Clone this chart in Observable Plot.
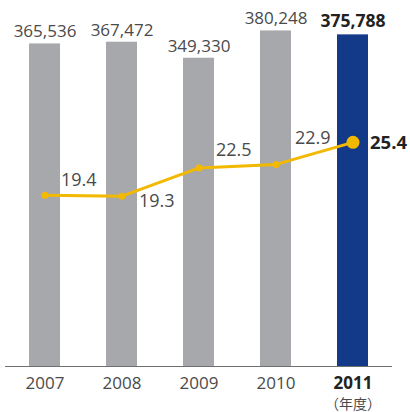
<!DOCTYPE html>
<html>
<head>
<meta charset="utf-8">
<script src="https://cdn.jsdelivr.net/npm/d3@7"></script>
<script src="https://cdn.jsdelivr.net/npm/@observablehq/plot@0.6"></script>
<style>
  html, body { margin: 0; padding: 0; background: #fff; }
  #chart svg { display: block; }
</style>
</head>
<body>
<div id="chart"></div>
<script>
// ---- data ----
const years = ["2007", "2008", "2009", "2010", "2011"];
const sales = [365536, 367472, 349330, 380248, 375788];
const ratio = [19.4, 19.3, 22.5, 22.9, 25.4];
const unitLabel = "（年度）";
const highlightYear = "2011";

// ---- styling / layout (kept apart from the data) ----
const gray = "#a7a8ac";
const navy = "#123a88";
const gold = "#f2b900";
const textColor = "#4a4a4a";
const strongText = "#222";
const ratioToBarUnits = 10000; // line drawn against the same vertical axis
const ratioLabelOffsets = [[16, -15], [17, 5], [17, -18], [19, -26], [17, 1]];
const font = "'Open Sans', sans-serif";

const rows = years.map((year, i) => ({ year, sales: sales[i], ratio: ratio[i] }));
const isHi = d => d.year === highlightYear;
const notHi = d => d.year !== highlightYear;
const ry = d => d.ratio * ratioToBarUnits;
const fmt = d3.format(",");

const ratioLabelMarks = rows.map((r, i) =>
  Plot.text([r], {
    x: "year", y: ry, text: d => d.ratio.toFixed(1),
    textAnchor: "start", dx: ratioLabelOffsets[i][0], dy: ratioLabelOffsets[i][1],
    fontSize: isHi(r) ? 18.5 : 18, fontWeight: isHi(r) ? "bold" : "normal",
    fill: isHi(r) ? strongText : textColor
  })
);

const chart = Plot.plot({
  width: 410,
  height: 412,
  marginLeft: 5,
  marginRight: 18,
  marginTop: 13,
  marginBottom: 46,
  x: { domain: years, paddingInner: 0.6, paddingOuter: 0.3, axis: null },
  y: { domain: [0, 400000], axis: null },
  style: { fontFamily: font, background: "#fff", overflow: "visible" },
  marks: [
    Plot.barY(rows.filter(notHi), { x: "year", y: "sales", fill: gray }),
    Plot.barY(rows.filter(isHi), { x: "year", y: "sales", fill: navy }),
    Plot.ruleY([0], { stroke: "#707070", strokeWidth: 1.2 }),
    Plot.text(rows.filter(notHi), {
      x: "year", y: "sales", text: d => fmt(d.sales), dy: -12,
      fontSize: 17, fill: textColor
    }),
    Plot.text(rows.filter(isHi), {
      x: "year", y: "sales", text: d => fmt(d.sales), dy: -13,
      fontSize: 17.5, fontWeight: "bold", fill: strongText
    }),
    Plot.line(rows, { x: "year", y: ry, stroke: gold, strokeWidth: 3 }),
    Plot.dot(rows.filter(notHi), { x: "year", y: ry, r: 3.5, fill: gold }),
    Plot.dot(rows.filter(isHi), { x: "year", y: ry, r: 6.5, fill: gold }),
    ...ratioLabelMarks,
    Plot.text(rows.filter(notHi), {
      x: "year", y: 0, text: "year", dy: 17.5, fontSize: 17, fill: textColor
    }),
    Plot.text(rows.filter(isHi), {
      x: "year", y: 0, text: "year", dy: 17.5, fontSize: 17, fontWeight: "bold", fill: strongText
    }),
    Plot.text(rows.filter(isHi), {
      x: "year", y: 0, text: () => unitLabel, dy: 38.5, fontSize: 14,
      fill: textColor, fontFamily: "'Noto Sans CJK JP', sans-serif"
    })
  ]
});

document.getElementById("chart").appendChild(chart);
</script>
</body>
</html>
